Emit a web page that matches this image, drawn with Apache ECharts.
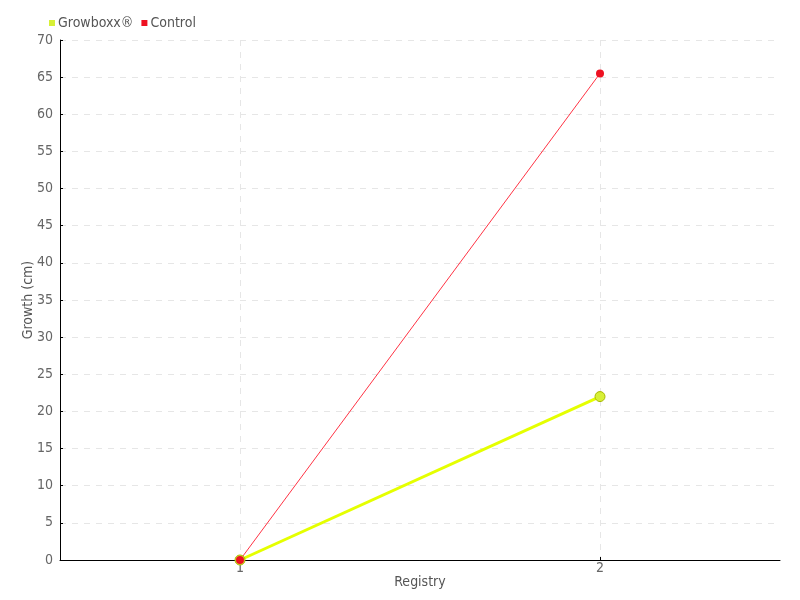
<!DOCTYPE html>
<html>
<head>
<meta charset="utf-8">
<script src="https://cdn.jsdelivr.net/npm/echarts@6/dist/echarts.min.js"></script>
<style>html,body{margin:0;padding:0;background:#fff}#c{width:800px;height:600px}</style>
</head>
<body>
<div id="c"></div>
<script>
const registry = [1, 2];
const growboxx = [0, 22];
const control = [0, 65.5];
const yTicks = [0, 5, 10, 15, 20, 25, 30, 35, 40, 45, 50, 55, 60, 65, 70];

const FONT = '"Liberation Sans Narrow", "DejaVu Sans Condensed", sans-serif';
const chart = echarts.init(document.getElementById('c'), null, {renderer: 'canvas'});
chart.setOption({
  animation: false,
  textStyle: {fontFamily: FONT},
  legend: {
    left: 44, top: 11, itemWidth: 6, itemHeight: 6, itemGap: 8,
    icon: 'rect',
    itemStyle: {borderWidth: 0},
    textStyle: {fontFamily: FONT, fontSize: 14, color: '#555', padding: [0, 0, 0, -2]},
    data: ['Growboxx®', 'Control']
  },
  grid: {left: 60, right: 20, top: 40, bottom: 40, containLabel: false, outerBoundsMode: 'none'},
  xAxis: {
    type: 'value', min: 0.5, max: 2.5,
    name: 'Registry', nameLocation: 'middle', nameGap: 15, nameMoveOverlap: false,
    nameTextStyle: {fontFamily: FONT, fontSize: 14, color: '#555'},
    axisLine: {lineStyle: {color: '#000', width: 1}},
    axisTick: {show: true, customValues: registry, length: 3, inside: true, lineStyle: {color: '#000'}},
    axisLabel: {customValues: registry, margin: 1, fontFamily: FONT, fontSize: 14, color: '#666'},
    splitLine: {show: true, lineStyle: {type: [6, 6], color: '#e6e6e6'}}
  },
  yAxis: {
    type: 'value', min: 0, max: 70, interval: 5,
    name: 'Growth (cm)', nameLocation: 'middle', nameGap: 25, nameRotate: 90, nameMoveOverlap: false,
    nameTextStyle: {fontFamily: FONT, fontSize: 14, color: '#555'},
    axisLine: {show: true, lineStyle: {color: '#000', width: 1}},
    axisTick: {show: true, inside: true, length: 3, lineStyle: {color: '#000'}},
    axisLabel: {margin: 7, fontFamily: FONT, fontSize: 14, color: '#666'},
    splitLine: {show: true, lineStyle: {type: [6, 6], color: '#e6e6e6'}}
  },
  series: [
    {
      name: 'Growboxx®', type: 'line',
      data: registry.map((r, i) => [r, growboxx[i]]),
      color: '#e5ff00',
      symbol: 'circle', symbolSize: 10,
      lineStyle: {color: '#e5ff00', width: 3},
      itemStyle: {color: '#d7f036', borderColor: '#a8b800', borderWidth: 1}
    },
    {
      name: 'Control', type: 'line',
      data: registry.map((r, i) => [r, control[i]]),
      color: '#ee1122',
      symbol: 'circle', symbolSize: 8,
      lineStyle: {color: '#ff3344', width: 1},
      itemStyle: {color: '#ee1122'}
    }
  ]
});
</script>
</body>
</html>
